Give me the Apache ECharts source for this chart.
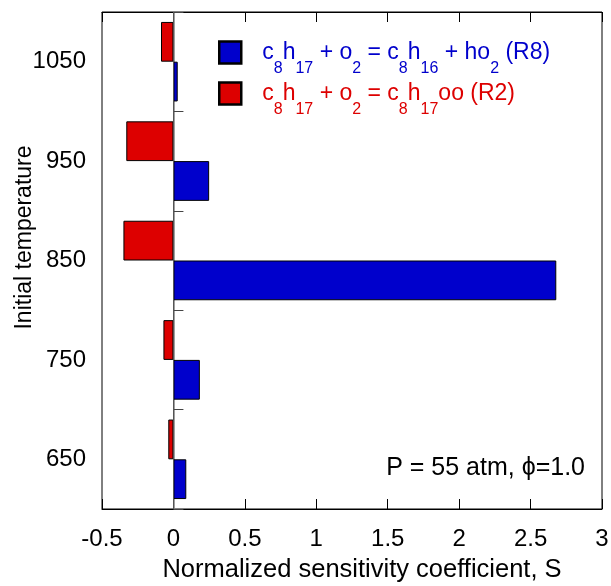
<!DOCTYPE html>
<html><head><meta charset="utf-8">
<script src="https://cdn.jsdelivr.net/npm/echarts@6/dist/echarts.min.js"></script>
<style>html,body{margin:0;padding:0;background:#fff}#c{width:611px;height:586px}</style>
</head><body><div id="c"></div>
<script>
// Data
const temperatures = ['650', '750', '850', '950', '1050'];
const r8Values = [0.09, 0.185, 2.68, 0.25, 0.03];       // c8h17 + o2 = c8h16 + ho2 (R8)
const r2Values = [-0.036, -0.07, -0.35, -0.33, -0.087]; // c8h17 + o2 = c8h17oo (R2)
const xTicks = { min: -0.5, max: 3, interval: 0.5 };

const FONT = '"Liberation Sans", Arial, sans-serif';
const BLUE = '#0000cc', RED = '#dd0000';

const chart = echarts.init(document.getElementById('c'), null, { renderer: 'canvas' });

function richFor(c) {
  return {
    sp: { width: 16, lineHeight: 23, fontSize: 23 },
    m: { fontSize: 23, color: c, fontFamily: FONT, lineHeight: 23 },
    s: { fontSize: 16, color: c, fontFamily: FONT, lineHeight: 23, padding: [33, 0, 0, 0] }
  };
}
const legendLabels = {
  R8: '{sp| }{m|c}{s|8}{m|h}{s|17}{m| + o}{s|2}{m| = c}{s|8}{m|h}{s|16}{m| + ho}{s|2}{m| (R8)}',
  R2: '{sp| }{m|c}{s|8}{m|h}{s|17}{m| + o}{s|2}{m| = c}{s|8}{m|h}{s|17}{m|oo (R2)}'
};

const option = {
  animation: false,
  textStyle: { fontFamily: FONT },
  grid: { left: 102, right: 9, top: 12, bottom: 77, outerBoundsMode: 'none', containLabel: false,
          show: true, borderColor: '#000', borderWidth: 1, backgroundColor: 'transparent' },
  legend: {
    orient: 'vertical', left: 218, top: 28, padding: 0, itemGap: -8,
    itemWidth: 22, itemHeight: 22, icon: 'rect',
    data: [
      { name: 'R8', itemStyle: { borderColor: '#000', borderWidth: 2.5 }, textStyle: { rich: richFor(BLUE) } },
      { name: 'R2', itemStyle: { borderColor: '#000', borderWidth: 2.5 }, textStyle: { rich: richFor(RED) } }
    ],
    formatter: n => legendLabels[n],
    selectedMode: false
  },
  xAxis: [
    {
      type: 'value', min: xTicks.min, max: xTicks.max, interval: xTicks.interval,
      position: 'bottom',
      axisLine: { show: true, lineStyle: { color: '#000', width: 1 } },
      axisTick: { show: true, inside: true, length: 10, lineStyle: { color: '#000' } },
      axisLabel: { fontSize: 24, color: '#000', margin: 18, fontFamily: FONT },
      splitLine: { show: false },
      name: 'Normalized sensitivity coefficient, S', nameLocation: 'middle', nameGap: 48,
      nameMoveOverlap: false,
      nameTextStyle: { fontSize: 25.5, color: '#000', fontFamily: FONT, padding: [0, 0, 0, 20] }
    },
    {
      type: 'value', min: xTicks.min, max: xTicks.max, interval: xTicks.interval,
      position: 'top',
      axisLine: { show: true, lineStyle: { color: '#000', width: 1 } },
      axisTick: { show: true, inside: true, length: 10, lineStyle: { color: '#000' } },
      axisLabel: { show: false }, splitLine: { show: false }
    }
  ],
  yAxis: {
    type: 'category', data: temperatures, boundaryGap: true,
    axisLine: { show: true, lineStyle: { color: '#808080', width: 1.5 } },
    axisTick: { show: true, inside: true, length: 10, lineStyle: { color: '#444' } },
    axisLabel: { fontSize: 24, color: '#000', margin: 16, fontFamily: FONT },
    name: 'Initial temperature', nameLocation: 'middle', nameGap: 66, nameMoveOverlap: false,
    nameTextStyle: { fontSize: 23, color: '#000', fontFamily: FONT, padding: [0, 0, 0, 46] }
  },
  series: [
    {
      name: 'R2', type: 'bar', data: r2Values, barWidth: '40%', barGap: '0%',
      itemStyle: { color: RED, borderColor: '#000', borderWidth: 1 },
      markLine: { silent: true, symbol: 'none', label: { show: false },
        lineStyle: { color: '#555', width: 1, type: 'solid' }, data: [{ xAxis: 0 }] }
    },
    {
      name: 'R8', type: 'bar', data: r8Values, barWidth: '40%', barGap: '0%',
      itemStyle: { color: BLUE, borderColor: '#000', borderWidth: 1 }
    }
  ],
  graphic: [
    { type: 'text', right: 26, top: 456,
      style: { text: 'P = 55 atm, \u03d5=1.0', fontSize: 25, fill: '#000', fontFamily: FONT } }
  ]
};
chart.setOption(option);
</script></body></html>
